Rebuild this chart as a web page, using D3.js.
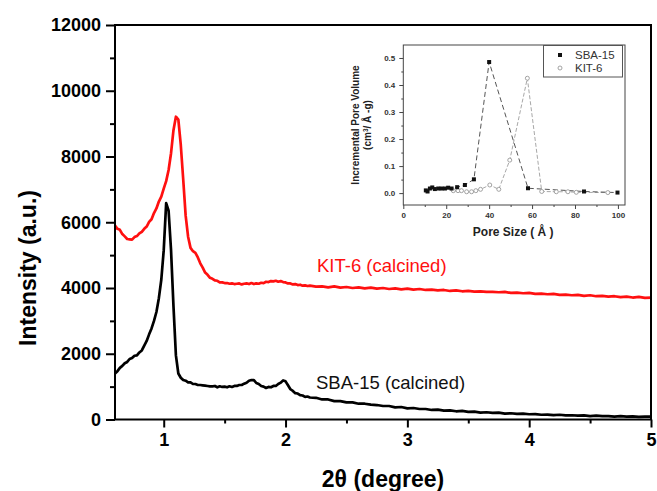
<!DOCTYPE html>
<html><head><meta charset="utf-8">
<script src="https://cdn.jsdelivr.net/npm/d3@7/dist/d3.min.js"></script>
<style>
html,body{margin:0;padding:0;background:#fff;}
svg{display:block;}
</style></head>
<body><svg id="c" width="657" height="491"></svg>
<script>
// ---- main XRD data ----
const twoTheta = [0.60,0.62,0.64,0.66,0.68,0.70,0.72,0.74,0.76,0.78,
 0.80,0.82,0.84,0.86,0.88,0.90,0.92,0.94,0.96,0.98,
 1.00,1.02,1.04,1.06,1.08,1.10,1.12,1.14,1.16,1.18,
 1.20,1.22,1.24,1.26,1.28,1.30,1.32,1.34,1.36,1.38,
 1.40,1.42,1.44,1.46,1.48,1.50,1.52,1.54,1.56,1.58,
 1.60,1.62,1.64,1.66,1.68,1.70,1.72,1.74,1.76,1.78,
 1.80,1.82,1.84,1.86,1.88,1.90,1.92,1.94,1.96,1.98,
 2.00,2.02,2.04,2.06,2.08,2.10,2.12,2.14,2.16,2.18,
 2.20,2.25,2.30,2.35,2.40,2.45,2.50,2.55,2.60,2.65,
 2.70,2.75,2.80,2.85,2.90,2.95,3.00,3.05,3.10,3.15,
 3.20,3.25,3.30,3.35,3.40,3.45,3.50,3.55,3.60,3.65,
 3.70,3.75,3.80,3.85,3.90,3.95,4.00,4.05,4.10,4.15,
 4.20,4.25,4.30,4.35,4.40,4.45,4.50,4.55,4.60,4.65,
 4.70,4.75,4.80,4.85,4.90,4.95,5.00];
const sba15Intensity = [1400,1470,1570,1630,1710,1750,1840,1870,1940,1950,
 2040,2100,2250,2390,2590,2770,3000,3270,3690,4250,
 5150,6580,6350,5150,3450,1950,1400,1270,1200,1180,
 1130,1130,1080,1080,1050,1050,1040,1030,1020,1010,
 1010,1020,980,1010,990,1000,980,1010,990,1020,
 1020,1050,1050,1090,1120,1180,1200,1200,1110,1080,
 1020,1000,960,990,980,1020,1020,1080,1120,1190,
 1160,1040,920,870,800,790,740,730,690,700,
 670,660,610,610,560,560,520,520,480,480,
 450,440,410,410,370,380,340,350,320,320,
 290,300,270,280,250,260,230,240,210,220,
 200,210,180,190,170,180,160,165,145,150,
 135,145,125,130,115,125,105,115,100,105,
 90,100,85,95,80,90,85];
const kit6Intensity = [5900,5800,5770,5640,5570,5490,5480,5470,5550,5580,
 5660,5710,5800,5870,6010,6090,6280,6420,6630,6780,
 7020,7250,7590,8100,8800,9210,9120,8350,7300,6200,
 5560,5220,5120,5070,4930,4750,4620,4470,4400,4310,
 4280,4230,4220,4170,4170,4150,4150,4130,4140,4120,
 4130,4140,4110,4130,4140,4120,4150,4120,4140,4130,
 4160,4150,4190,4180,4210,4200,4220,4190,4210,4180,
 4170,4140,4140,4110,4120,4090,4100,4070,4080,4060,
 4070,4040,4050,4020,4050,4010,4030,4000,4020,3990,
 4010,3980,4000,3970,3990,3960,3980,3950,3970,3940,
 3950,3930,3940,3910,3930,3900,3910,3890,3900,3880,
 3880,3870,3880,3850,3860,3840,3850,3820,3830,3810,
 3820,3790,3800,3780,3790,3760,3780,3750,3760,3740,
 3750,3720,3740,3710,3730,3700,3710];
const xMajorTicks = [1,2,3,4,5];
const xMinorTicks = [1.5,2.5,3.5,4.5];
const yMajorTicks = [0,2000,4000,6000,8000,10000,12000];
const yMinorTicks = [1000,3000,5000,7000,9000,11000];

// ---- inset pore size data ----
const sbaPore = [10.5,11.3,12.4,13.5,14.7,16.3,17.8,19.4,20.9,22.5,25.1,28.7,32.9,40.0,58.1,84.2,99.8];
const sbaVolume = [0.010,0.006,0.017,0.021,0.015,0.017,0.017,0.017,0.020,0.017,0.022,0.030,0.051,0.485,0.018,0.006,0.002];
const kitPore = [23.3,25.5,27.1,29.5,31.8,33.8,36.0,40.3,44.5,49.6,57.8,64.5,71.3,76.7,80.6,95.3];
const kitVolume = [0.009,0.009,0.009,0.005,0.005,0.009,0.014,0.030,0.014,0.122,0.425,0.006,0.005,0.005,0.003,0.002];
const insetXMajor = [0,20,40,60,80,100];
const insetXMinor = [10,30,50,70,90];
const insetYMajor = [0,0.1,0.2,0.3,0.4,0.5];
const insetYMinor = [0.05,0.15,0.25,0.35,0.45];

const FONT = "'Liberation Sans', Arial, Helvetica, sans-serif";
const svg = d3.select("#c");

// ---------- main chart ----------
const L=115, R=651, T=25, B=419.5;
const x = d3.scaleLinear().domain([0.6,5]).range([L,R]);
const y = d3.scaleLinear().domain([0,12000]).range([B,T]);

svg.append("defs").append("clipPath").attr("id","clipMain")
  .append("rect").attr("x",L).attr("y",T).attr("width",R-L).attr("height",B-T);

const line = d3.line().x(d=>x(d[0])).y(d=>y(d[1]));
const g = svg.append("g").attr("clip-path","url(#clipMain)");
g.append("path").datum(twoTheta.map((t,i)=>[t,kit6Intensity[i]]))
  .attr("d",line).attr("fill","none").attr("stroke","#ff1010").attr("stroke-width",2.7).attr("stroke-linejoin","round");
g.append("path").datum(twoTheta.map((t,i)=>[t,sba15Intensity[i]]))
  .attr("d",line).attr("fill","none").attr("stroke","#000").attr("stroke-width",2.7).attr("stroke-linejoin","round");

// axes
function styleAxis(sel){
  sel.select(".domain").remove();
  sel.selectAll("line").attr("stroke","#000").attr("stroke-width",2);
}
const xAx = svg.append("g").attr("transform",`translate(0,${B})`)
  .call(d3.axisBottom(x).tickValues(xMajorTicks).tickSize(8).tickPadding(6).tickFormat(d3.format("d")));
styleAxis(xAx);
xAx.selectAll("text").attr("font-family",FONT).attr("font-weight","bold").attr("font-size",18).attr("fill","#000");
const xAxm = svg.append("g").attr("transform",`translate(0,${B})`)
  .call(d3.axisBottom(x).tickValues(xMinorTicks).tickSize(4).tickFormat(""));
styleAxis(xAxm);

const yAx = svg.append("g").attr("transform",`translate(${L},0)`)
  .call(d3.axisLeft(y).tickValues(yMajorTicks).tickSize(9).tickPadding(5).tickFormat(d3.format("d")));
styleAxis(yAx);
yAx.selectAll("text").attr("font-family",FONT).attr("font-weight","bold").attr("font-size",18).attr("fill","#000");
const yAxm = svg.append("g").attr("transform",`translate(${L},0)`)
  .call(d3.axisLeft(y).tickValues(yMinorTicks).tickSize(5).tickFormat(""));
styleAxis(yAxm);

// frame
svg.append("rect").attr("x",L).attr("y",T).attr("width",R-L).attr("height",B-T)
  .attr("fill","none").attr("stroke","#000").attr("stroke-width",2);

// axis titles
svg.append("text").attr("x",(L+R)/2).attr("y",487).attr("text-anchor","middle")
  .attr("font-family",FONT).attr("font-weight","bold").attr("font-size",23).text("2θ (degree)");
svg.append("text").attr("transform","translate(36,268) rotate(-90)").attr("text-anchor","middle")
  .attr("font-family",FONT).attr("font-weight","bold").attr("font-size",23).text("Intensity (a.u.)");

// series labels
svg.append("text").attr("x",317).attr("y",272).attr("font-family",FONT).attr("font-size",18.5)
  .attr("fill","#ff1010").text("KIT-6 (calcined)");
svg.append("text").attr("x",316).attr("y",389).attr("font-family",FONT).attr("font-size",18.5)
  .attr("fill","#111").text("SBA-15 (calcined)");

// ---------- inset ----------
svg.append("rect").attr("x",344).attr("y",30).attr("width",305).attr("height",216).attr("fill","#fff");
const iL=403.3, iR=625, iT=45, iB=205;
const xi = d3.scaleLinear().domain([0,103.3]).range([iL,iR]);
const yi = d3.scaleLinear().domain([-0.044,0.548]).range([iB,iT]);

function styleInset(sel){
  sel.select(".domain").remove();
  sel.selectAll("line").attr("stroke","#444").attr("stroke-width",1);
  sel.selectAll("text").attr("font-family",FONT).attr("font-weight","bold").attr("font-size",8).attr("fill","#333");
}
const ixa = svg.append("g").attr("transform",`translate(0,${iB})`)
  .call(d3.axisBottom(xi).tickValues(insetXMajor).tickSize(4).tickPadding(3).tickFormat(d3.format("d")));
styleInset(ixa);
const ixm = svg.append("g").attr("transform",`translate(0,${iB})`)
  .call(d3.axisBottom(xi).tickValues(insetXMinor).tickSize(2).tickFormat(""));
styleInset(ixm);
const iya = svg.append("g").attr("transform",`translate(${iL},0)`)
  .call(d3.axisLeft(yi).tickValues(insetYMajor).tickSize(4).tickPadding(4).tickFormat(d3.format(".1f")));
styleInset(iya);
const iym = svg.append("g").attr("transform",`translate(${iL},0)`)
  .call(d3.axisLeft(yi).tickValues(insetYMinor).tickSize(2).tickFormat(""));
styleInset(iym);
svg.append("rect").attr("x",iL).attr("y",iT).attr("width",iR-iL).attr("height",iB-iT)
  .attr("fill","none").attr("stroke","#444").attr("stroke-width",1);

const iline = d3.line().x(d=>xi(d[0])).y(d=>yi(d[1]));
const kitPts = kitPore.map((p,i)=>[p,kitVolume[i]]);
const sbaPts = sbaPore.map((p,i)=>[p,sbaVolume[i]]);
svg.append("path").datum(kitPts).attr("d",iline).attr("fill","none")
  .attr("stroke","#a8a8a8").attr("stroke-width",1).attr("stroke-dasharray","4,2");
svg.append("path").datum(sbaPts).attr("d",iline).attr("fill","none")
  .attr("stroke","#555").attr("stroke-width",1).attr("stroke-dasharray","5,3");
svg.append("g").selectAll("circle").data(kitPts).join("circle")
  .attr("cx",d=>xi(d[0])).attr("cy",d=>yi(d[1])).attr("r",2)
  .attr("fill","#fff").attr("stroke","#999").attr("stroke-width",0.9);
svg.append("g").selectAll("rect").data(sbaPts).join("rect")
  .attr("x",d=>xi(d[0])-2).attr("y",d=>yi(d[1])-2).attr("width",4).attr("height",4).attr("fill","#111");

// inset legend
svg.append("rect").attr("x",543.5).attr("y",45.5).attr("width",79).attr("height",31.5)
  .attr("fill","#fff").attr("stroke","#555").attr("stroke-width",1);
svg.append("rect").attr("x",558).attr("y",53).attr("width",4).attr("height",4).attr("fill","#111");
svg.append("circle").attr("cx",560).attr("cy",68).attr("r",2).attr("fill","#fff").attr("stroke","#999").attr("stroke-width",0.9);
svg.append("text").attr("x",575).attr("y",59).attr("font-family",FONT).attr("font-size",11.5).attr("fill","#333").text("SBA-15");
svg.append("text").attr("x",575).attr("y",72).attr("font-family",FONT).attr("font-size",11.5).attr("fill","#333").text("KIT-6");

// inset titles
svg.append("text").attr("x",(iL+iR)/2 - 1).attr("y",236).attr("text-anchor","middle")
  .attr("font-family",FONT).attr("font-weight","bold").attr("font-size",12).attr("fill","#222")
  .text("Pore Size ( Å )");
const yt = svg.append("text").attr("transform",`translate(359,${(iT+iB)/2}) rotate(-90)`).attr("text-anchor","middle")
  .attr("font-family",FONT).attr("font-weight","bold").attr("font-size",10).attr("fill","#222");
yt.append("tspan").attr("x",0).attr("dy",0).text("Incremental Pore Volume");
const t2 = yt.append("tspan").attr("x",0).attr("dy",12).text("(cm");
t2.append("tspan").attr("font-size",6.5).attr("dy",-3.5).text("3");
t2.append("tspan").attr("dy",3.5).text("/ Å -g)");
</script>
</body></html>
